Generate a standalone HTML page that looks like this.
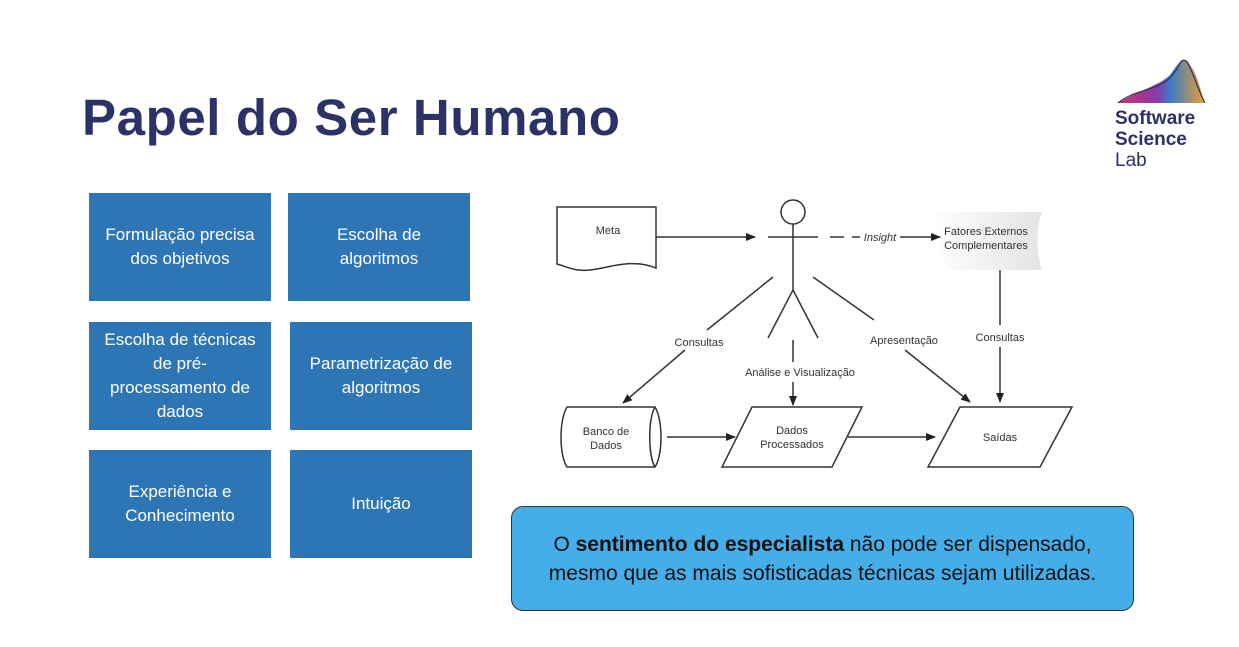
<!DOCTYPE html>
<html><head><meta charset="utf-8"><style>
body{margin:0;width:1239px;height:647px;background:#fff;position:relative;overflow:hidden;font-family:"Liberation Sans",sans-serif}
.t{position:absolute;left:82px;top:88px;font-size:51px;letter-spacing:0.6px;font-weight:bold;color:#2B3266}
.b{position:absolute;background:#2E75B6;color:#fff;font-size:17px;line-height:24px;display:flex;align-items:center;justify-content:center;text-align:center}
.c{position:absolute;left:511px;top:506px;width:623px;height:105px;background:#45ADE8;border:1.5px solid #333;border-radius:12px;box-sizing:border-box;display:flex;align-items:center;justify-content:center;text-align:center;font-size:21px;line-height:29px;color:#111}
.logo{position:absolute;left:1115px;top:108px;color:#2B3266;font-size:19px;line-height:21px;font-weight:bold}
</style></head><body>
<div class="t">Papel do Ser Humano</div>
<div class="b" style="left:89px;top:193px;width:182px;height:108px">Formulação precisa<br>dos objetivos</div>
<div class="b" style="left:288px;top:193px;width:182px;height:108px">Escolha de<br>algoritmos</div>
<div class="b" style="left:89px;top:322px;width:182px;height:108px">Escolha de técnicas<br>de pré-<br>processamento de<br>dados</div>
<div class="b" style="left:290px;top:322px;width:182px;height:108px">Parametrização de<br>algoritmos</div>
<div class="b" style="left:89px;top:450px;width:182px;height:108px">Experiência e<br>Conhecimento</div>
<div class="b" style="left:290px;top:450px;width:182px;height:108px">Intuição</div>
<div class="c"><div>O <b>sentimento do especialista</b> não pode ser dispensado,<br>mesmo que as mais sofisticadas técnicas sejam utilizadas.</div></div>
<svg style="position:absolute;left:1110px;top:55px" width="100" height="52">
<defs><linearGradient id="g" x1="0" x2="1"><stop offset="0" stop-color="#d0306a"/><stop offset=".45" stop-color="#8a3aa8"/><stop offset=".6" stop-color="#3a7ac8"/><stop offset="1" stop-color="#f0a030"/></linearGradient></defs>
<path d="M8 48 C30 35 50 30 60 20 C70 5 75 0 80 10 C88 20 90 35 95 48 Z" fill="url(#g)"/>
<path d="M8 48 C30 30 55 40 70 8 C78 -5 85 30 95 48" fill="none" stroke="#2B3266" stroke-width="1.2"/>
</svg>
<div class="logo">Software<br>Science<br><span style="font-weight:normal">Lab</span></div>
<svg style="position:absolute;left:0;top:0" width="1239" height="647" font-family="Liberation Sans,sans-serif" font-size="11" fill="#333">
<defs><marker id="a" markerWidth="10" markerHeight="8" refX="9" refY="4" orient="auto" markerUnits="userSpaceOnUse"><path d="M0 0L10 4L0 8Z" fill="#222"/></marker>
<linearGradient id="f" x1="0" x2="1"><stop offset="0" stop-color="#fff"/><stop offset="1" stop-color="#e4e4e4"/></linearGradient></defs>
<g stroke="#333" stroke-width="1.5" fill="none">
<path d="M557 207H656V268C630 258 610 268 590 270C575 272 565 266 557 264Z" fill="#fff"/>
<path d="M930 212H1042C1036 230 1036 252 1042 270H948C940 262 936 230 930 212Z" fill="url(#f)" stroke="none"/>
<circle cx="793" cy="212" r="12"/>
<path d="M768 237H818M793 224V290L768 338M793 290L818 338"/>
<path d="M656 237H755" marker-end="url(#a)"/>
<path d="M830 237H860" stroke-dasharray="14 8"/>
<path d="M900 237H940" marker-end="url(#a)"/>
<path d="M773 277L707 330"/><path d="M685 350L623 403" marker-end="url(#a)"/>
<path d="M813 277L874 320"/><path d="M905 350L970 402" marker-end="url(#a)"/>
<path d="M793 340V362"/><path d="M793 382V405" marker-end="url(#a)"/>
<path d="M1000 270V325"/><path d="M1000 347V402" marker-end="url(#a)"/>
<path d="M567 407H655C663 420 663 455 655 467H567C559 455 559 420 567 407Z" fill="#fff"/>
<path d="M655 407C648 420 648 455 655 467"/>
<path d="M752 407H862L832 467H722Z" fill="#fff"/>
<path d="M960 407H1072L1040 467H928Z" fill="#fff"/>
<path d="M667 437H735" marker-end="url(#a)"/>
<path d="M848 437H935" marker-end="url(#a)"/>
</g>
<text x="608" y="234" text-anchor="middle">Meta</text>
<text x="880" y="241" font-style="italic" text-anchor="middle">Insight</text>
<text x="986" y="235" text-anchor="middle">Fatores Externos</text><text x="986" y="249" text-anchor="middle">Complementares</text>
<text x="699" y="346" text-anchor="middle">Consultas</text>
<text x="800" y="376" text-anchor="middle">Análise e Visualização</text>
<text x="904" y="344" text-anchor="middle">Apresentação</text>
<text x="1000" y="341" text-anchor="middle">Consultas</text>
<text x="606" y="435" text-anchor="middle">Banco de</text><text x="606" y="449" text-anchor="middle">Dados</text>
<text x="792" y="434" text-anchor="middle">Dados</text><text x="792" y="448" text-anchor="middle">Processados</text>
<text x="1000" y="441" text-anchor="middle">Saídas</text>
</svg>
</body></html>
